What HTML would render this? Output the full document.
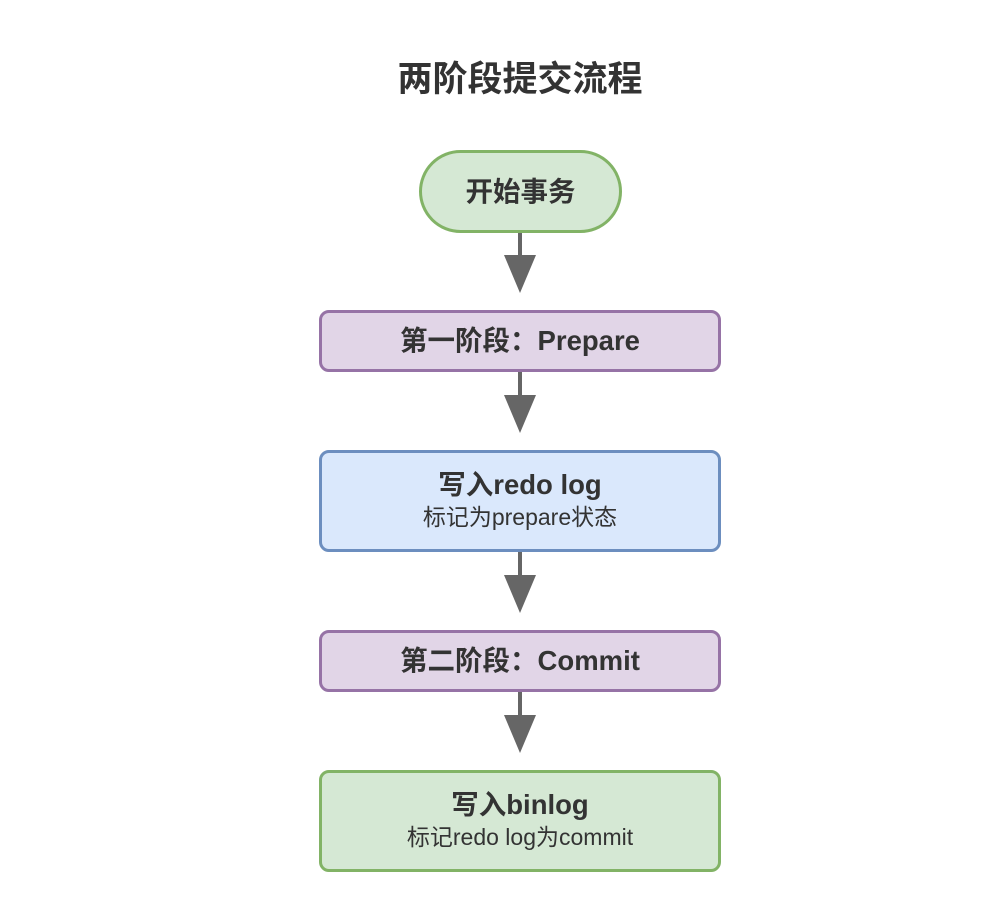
<!DOCTYPE html>
<html><head><meta charset="utf-8"><style>
body{margin:0;background:#fff;width:990px;height:924px;position:relative;overflow:hidden;font-family:"Liberation Sans","Noto Sans CJK SC",sans-serif;color:#333}
.t{position:absolute;left:0;width:1040px;text-align:center;top:58px;font-size:35px;line-height:44px;font-weight:bold}
.n{position:absolute;box-sizing:border-box;border:3px solid;display:flex;flex-direction:column;justify-content:center;align-items:center;text-align:center}
.b{font-size:27.5px;font-weight:bold;line-height:32px}
.s{font-size:23px;line-height:32px}
</style></head><body>
<div class="t">两阶段提交流程</div>
<div class="n" style="left:419px;top:150px;width:203px;height:83px;border-radius:42px;background:#d5e8d4;border-color:#82b366"><div class="b">开始事务</div></div>
<div class="n" style="left:319px;top:310px;width:402px;height:62px;border-radius:10px;background:#e1d5e7;border-color:#9673a6"><div class="b">第一阶段：Prepare</div></div>
<div class="n" style="left:319px;top:450px;width:402px;height:102px;border-radius:10px;background:#dae8fc;border-color:#6c8ebf"><div class="b">写入redo log</div><div class="s">标记为prepare状态</div></div>
<div class="n" style="left:319px;top:630px;width:402px;height:62px;border-radius:10px;background:#e1d5e7;border-color:#9673a6"><div class="b">第二阶段：Commit</div></div>
<div class="n" style="left:319px;top:770px;width:402px;height:102px;border-radius:10px;background:#d5e8d4;border-color:#82b366"><div class="b">写入binlog</div><div class="s">标记redo log为commit</div></div>
<svg width="990" height="924" style="position:absolute;left:0;top:0">
<g fill="#666" stroke="#666" stroke-width="4">
<line x1="520" y1="233" x2="520" y2="257"/><polygon stroke="none" points="504,255 536,255 520,293"/>
<line x1="520" y1="372" x2="520" y2="397"/><polygon stroke="none" points="504,395 536,395 520,433"/>
<line x1="520" y1="552" x2="520" y2="577"/><polygon stroke="none" points="504,575 536,575 520,613"/>
<line x1="520" y1="692" x2="520" y2="717"/><polygon stroke="none" points="504,715 536,715 520,753"/>
</g></svg>
</body></html>
